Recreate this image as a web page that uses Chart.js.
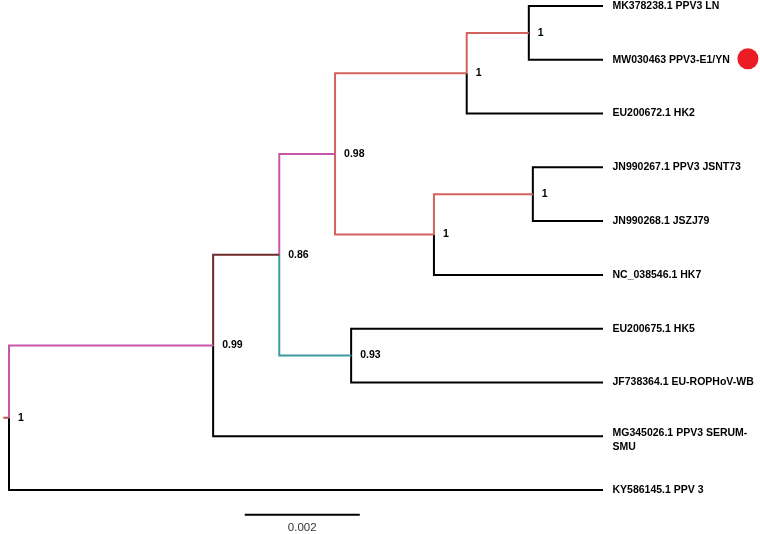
<!DOCTYPE html>
<html>
<head>
<meta charset="utf-8">
<script src="https://cdn.jsdelivr.net/npm/chart.js@4/dist/chart.umd.min.js"></script>
<style>
html,body{margin:0;padding:0;background:#fff;}
#wrap{width:760px;height:534px;}
</style>
</head>
<body>
<div id="wrap"><canvas id="c" width="760" height="534"></canvas></div>
<script>
const taxa = [
  'MK378238.1 PPV3 LN',
  'MW030463 PPV3-E1/YN',
  'EU200672.1 HK2',
  'JN990267.1 PPV3 JSNT73',
  'JN990268.1 JSZJ79',
  'NC_038546.1 HK7',
  'EU200675.1 HK5',
  'JF738364.1 EU-ROPHoV-WB',
  'MG345026.1 PPV3 SERUM-\nSMU',
  'KY586145.1 PPV 3'
];
const tipIds = ['t0','t1','t2','t3','t4','t5','t6','t7','t8','t9'];
const tipDepth = [0.01033,0.01033,0.01033,0.01033,0.01033,0.01033,0.01033,0.01033,0.01033,0.01033];

const nodeIds = ['root','n099','n086','n098','nA','nB','nC','nD','n093'];
const nodeDepth = [0, 0.00355, 0.00470, 0.00567, 0.00796, 0.00904, 0.00739, 0.00911, 0.00595];
const nodeSupport = ['1','0.99','0.86','0.98','1','1','1','1','0.93'];
const nodeChildren = [
  ['n099','t9'],
  ['n086','t8'],
  ['n098','n093'],
  ['nA','nC'],
  ['nB','t2'],
  ['t0','t1'],
  ['nD','t5'],
  ['t3','t4'],
  ['t6','t7']
];
// colour of the branch leading to each coloured node (others black)
const colouredBranches = ['n099','n086','n098','n093','nA','nC','nB','nD'];
const branchColours   = ['#c657a9','#6d2a2b','#c657a9','#3d9aa1','#d2625e','#d2625e','#d2625e','#d2625e'];
const rootStub = [-0.0001, 0];
const rootStubColour = '#c8504c';
const scaleBar = [0.0041, 0.0061];   // 0.002 units
const scaleBarLabel = '0.002';
const scaleBarRow = 9.46;
const markedTip = 't1';
const markerDepth = 0.01285;
const markerColour = '#ec1c24';

// ---- Build tree layout ----
const depth = {}, ypos = {}, children = {};
tipIds.forEach((id,i)=>{ depth[id]=tipDepth[i]; ypos[id]=i; });
nodeIds.forEach((id,i)=>{ depth[id]=nodeDepth[i]; children[id]=nodeChildren[i]; });
function yOf(id){
  if (ypos[id] !== undefined) return ypos[id];
  const c = children[id];
  ypos[id] = (yOf(c[0]) + yOf(c[1])) / 2;
  return ypos[id];
}
yOf('root');

const datasets = [];
nodeIds.forEach(pid=>{
  children[pid].forEach(cid=>{
    const ci = colouredBranches.indexOf(cid);
    const col = ci >= 0 ? branchColours[ci] : '#000000';
    datasets.push({
      data:[{x:depth[pid],y:ypos[pid]},{x:depth[pid],y:ypos[cid]},{x:depth[cid],y:ypos[cid]}],
      borderColor:col, order: ci>=0 ? 0 : 1
    });
  });
});
datasets.push({data:[{x:rootStub[0],y:ypos['root']},{x:rootStub[1],y:ypos['root']}], borderColor:rootStubColour, order:0});
datasets.push({data:[{x:scaleBar[0],y:scaleBarRow},{x:scaleBar[1],y:scaleBarRow}], borderColor:'#000000'});

const textPlugin = {
  id:'treeText',
  afterDatasetsDraw(chart){
    const ctx = chart.ctx, xs = chart.scales.x, ys = chart.scales.y;
    ctx.save();
    ctx.fillStyle = '#000';
    ctx.textBaseline = 'middle';
    ctx.textAlign = 'left';
    ctx.font = 'bold 10.5px "Liberation Sans", Arial, sans-serif';
    tipIds.forEach((id,i)=>{
      const px = xs.getPixelForValue(depth[id]) + 9.5;
      const py = ys.getPixelForValue(ypos[id]);
      const lines = taxa[i].split('\n');
      if (lines.length === 1) ctx.fillText(lines[0], px, py);
      else lines.forEach((l,k)=> ctx.fillText(l, px, py - 3 + k*14));
    });
    nodeIds.forEach((id,i)=>{
      const px = xs.getPixelForValue(depth[id]) + 9;
      const py = ys.getPixelForValue(ypos[id]);
      ctx.fillText(nodeSupport[i], px, py);
    });
    ctx.font = '11.5px "Liberation Sans", Arial, sans-serif';
    ctx.fillStyle = '#333';
    ctx.textAlign = 'center';
    ctx.fillText(scaleBarLabel, xs.getPixelForValue((scaleBar[0]+scaleBar[1])/2), ys.getPixelForValue(scaleBarRow) + 13);
    // marker for the sequence of this study
    ctx.fillStyle = markerColour;
    ctx.beginPath();
    ctx.arc(xs.getPixelForValue(markerDepth), ys.getPixelForValue(ypos[markedTip]) - 1, 10.5, 0, Math.PI*2);
    ctx.fill();
    ctx.restore();
  }
};

new Chart(document.getElementById('c'), {
  type:'line',
  data:{datasets},
  options:{
    responsive:false,
    animation:false,
    layout:{padding:{left:9,right:157,top:6,bottom:44}},
    datasets:{line:{clip:false, borderWidth:2, pointRadius:0, tension:0, fill:false, borderJoinStyle:'miter', borderCapStyle:'butt'}},
    plugins:{legend:{display:false}, tooltip:{enabled:false}},
    scales:{
      x:{type:'linear', min:0, max:tipDepth[0], display:false},
      y:{type:'linear', min:0, max:tipIds.length-1, reverse:true, display:false}
    }
  },
  plugins:[textPlugin]
});
</script>
</body>
</html>
